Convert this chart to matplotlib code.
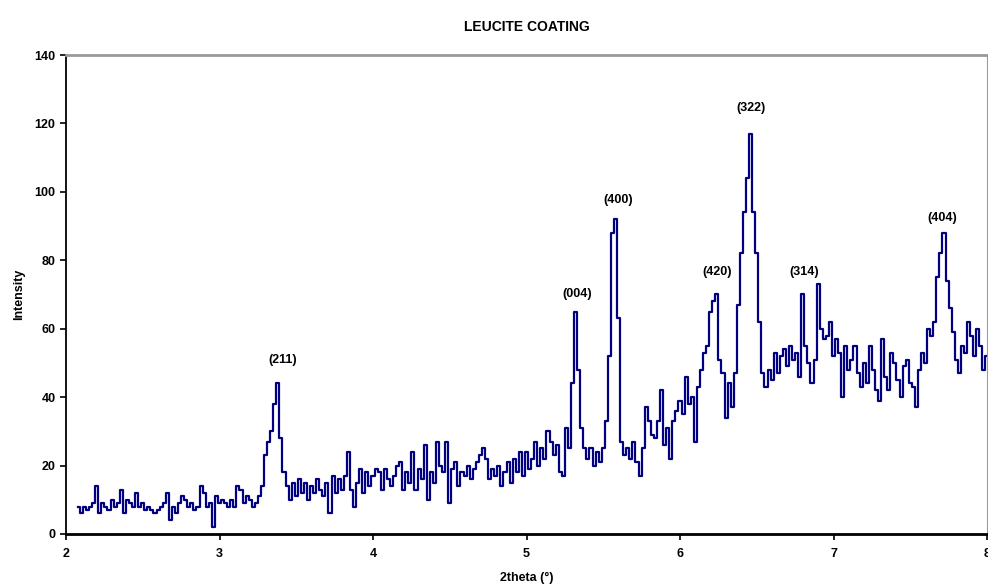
import numpy as np
import matplotlib.pyplot as plt

plt.rcParams['font.family'] = ['Liberation Sans', 'DejaVu Sans']

# 2theta from 2.08 to 8.00 in 0.02 steps
two_theta = np.round(np.arange(2.08, 8.0001, 0.02), 2)

intensity = [
    8, 6, 8, 7, 8, 9, 14, 6, 9, 8,
    7, 10, 8, 9, 13, 6, 10, 9, 8, 12,
    8, 9, 7, 8, 7, 6, 7, 8, 9, 12,
    4, 8, 6, 9, 11, 10, 8, 9, 7, 8,
    14, 12, 8, 9, 2, 11, 9, 10, 9, 8,
    10, 8, 14, 13, 9, 11, 10, 8, 9, 11,
    14, 23, 27, 30, 38, 44, 28, 18, 14, 10,
    15, 11, 16, 12, 15, 10, 14, 12, 16, 13,
    11, 15, 6, 17, 12, 16, 13, 17, 24, 13,
    8, 15, 19, 12, 18, 14, 17, 19, 18, 13,
    19, 16, 14, 17, 20, 21, 13, 18, 15, 24,
    13, 19, 16, 26, 10, 18, 15, 27, 20, 18,
    27, 9, 19, 21, 14, 18, 17, 20, 16, 19,
    21, 23, 25, 22, 16, 19, 17, 20, 14, 18,
    21, 15, 22, 18, 24, 17, 24, 19, 22, 27,
    20, 25, 22, 30, 27, 23, 26, 18, 17, 31,
    25, 44, 65, 48, 31, 25, 22, 25, 20, 24,
    21, 25, 33, 52, 88, 92, 63, 27, 23, 25,
    22, 27, 21, 17, 25, 37, 33, 29, 28, 33,
    42, 26, 31, 22, 33, 36, 39, 35, 46, 38,
    40, 27, 43, 48, 53, 55, 65, 68, 70, 51,
    47, 34, 44, 37, 47, 67, 82, 94, 104, 117,
    94, 82, 62, 47, 43, 48, 45, 53, 47, 52,
    54, 49, 55, 51, 53, 46, 70, 55, 50, 44,
    51, 73, 60, 57, 58, 62, 52, 57, 53, 40,
    55, 48, 51, 55, 47, 43, 50, 44, 55, 48,
    42, 39, 57, 46, 42, 53, 50, 45, 40, 49,
    51, 44, 43, 37, 48, 53, 50, 60, 58, 62,
    75, 82, 88, 74, 66, 59, 51, 47, 55, 53,
    62, 58, 52, 60, 55, 48, 52,
]

peak_labels = ['(211)', '(004)', '(400)', '(420)', '(322)', '(314)', '(404)']
peak_x = [3.41, 5.33, 5.60, 6.24, 6.46, 6.81, 7.71]
peak_y = [51, 70, 97.5, 76.5, 124.5, 76.5, 92.5]

fig = plt.figure(figsize=(9.88, 5.87), dpi=100)
ax = fig.add_axes([0.0668, 0.0903, 0.9322, 0.816])
ax.plot(two_theta, intensity, color='#000080', lw=1.6, drawstyle='steps-mid')

for lab, px, py in zip(peak_labels, peak_x, peak_y):
    ax.text(px, py, lab, ha='center', va='center', fontsize=9, fontweight='bold')

ax.set_xlim(2, 8)
ax.set_ylim(0, 140)
ax.set_xticks(range(2, 9))
ax.set_yticks(range(0, 141, 20))
ax.tick_params(direction='out', length=4, labelsize=9, width=1.2)
ax.tick_params(axis='x', pad=6)
for t in ax.get_xticklabels() + ax.get_yticklabels():
    t.set_fontweight('bold')

ax.spines['bottom'].set_linewidth(2)
ax.spines['left'].set_linewidth(1.3)
ax.spines['top'].set_color('#999999')
ax.spines['right'].set_color('#999999')
ax.spines['top'].set_linewidth(2)

ax.set_title('LEUCITE COATING', fontsize=10, fontweight='bold', pad=17)
ax.set_xlabel('2theta (°)', fontsize=9, fontweight='bold', labelpad=9)
ax.set_ylabel('Intensity', fontsize=9, fontweight='bold', labelpad=7)

fig.savefig('out.png', dpi=100)
